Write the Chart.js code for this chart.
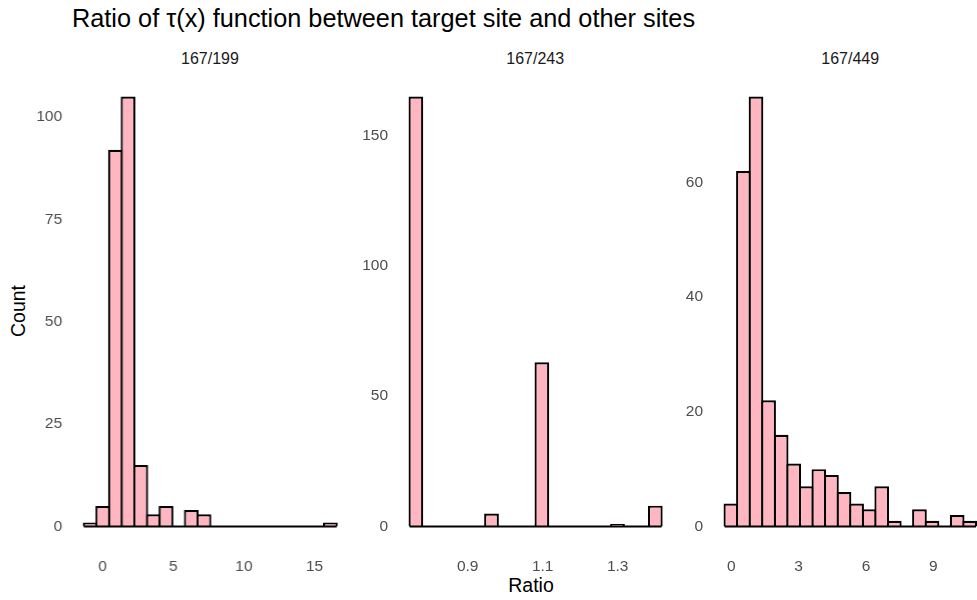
<!DOCTYPE html>
<html>
<head>
<meta charset="utf-8">
<script src="https://cdn.jsdelivr.net/npm/chart.js@4.4.1/dist/chart.umd.min.js"></script>
<style>
  body { margin: 0; width: 977px; height: 600px; overflow: hidden; background: #fff; position: relative;
         font-family: "Liberation Sans", Arial, sans-serif; }
  .panel { position: absolute; }
  .txt { position: absolute; white-space: nowrap; transform: translate(-50%, -50%); }
</style>
</head>
<body>
<div class="txt" style="left:72px;top:18px;transform:translate(0,-50%);font-size:25.3px;color:#000">Ratio of τ(x) function between target site and other sites</div>
<div class="txt" id="strip1" style="top:59px;font-size:16px;color:#1A1A1A">167/199</div>
<div class="txt" id="strip2" style="top:59px;font-size:16px;color:#1A1A1A">167/243</div>
<div class="txt" id="strip3" style="top:59px;font-size:16px;color:#1A1A1A">167/449</div>
<div class="txt" style="left:18px;top:311px;transform:translate(-50%,-50%) rotate(-90deg);font-size:19.5px;color:#000">Count</div>
<div class="txt" style="left:531px;top:585px;font-size:19.5px;color:#000">Ratio</div>

<div class="panel" id="p1"><canvas></canvas></div>
<div class="panel" id="p2"><canvas></canvas></div>
<div class="panel" id="p3"><canvas></canvas></div>

<script>
// 167/199
const binStart1 = -0.88
const binWidth1 = 0.895
const counts1 = [1, 5, 92, 105, 15, 3, 5, 0, 4, 3, 0, 0, 0, 0, 0, 0, 0, 0, 0, 1]
const ticksX1 = [0, 5, 10, 15]
const ticksY1 = [0, 25, 50, 75, 100]

// 167/243
const binStart2 = 0.762
const binWidth2 = 0.0336
const counts2 = [165, 0, 0, 0, 0, 0, 5, 0, 0, 0, 63, 0, 0, 0, 0, 0, 1, 0, 0, 8]
const ticksX2 = [0.9, 1.1, 1.3]
const ticksY2 = [0, 50, 100, 150]

// 167/449
const binStart3 = -0.02
const binWidth3 = 0.56
const counts3 = [4, 62, 75, 22, 16, 11, 7, 10, 9, 6, 4, 3, 7, 1, 0, 3, 1, 0, 2, 1]
const ticksX3 = [0, 3, 6, 9]
const ticksY3 = [0, 20, 40, 60]

const TOP = 75, BOTTOM = 548, EJE_Y = 60, EJE_X = 40
const fuente = '"Liberation Sans", Arial, sans-serif'

function sin_relleno(s) {
    s.paddingTop = 0
    s.paddingBottom = 0
    s.paddingLeft = 0
    s.paddingRight = 0
}

function dibujar_panel(id, strip, izq, der, inicio, ancho, conteos, ticksX, ticksY) {
    const caja = document.getElementById(id)
    caja.style.left = (izq - EJE_Y) + 'px'
    caja.style.top = TOP + 'px'
    caja.style.width = (der - izq + EJE_Y) + 'px'
    caja.style.height = (BOTTOM - TOP + EJE_X) + 'px'
    document.getElementById(strip).style.left = ((izq + der) / 2) + 'px'

    const centros = conteos.map((c, i) => inicio + i * ancho)
    const bordeMin = inicio - ancho / 2
    const bordeMax = inicio + (conteos.length - 0.5) * ancho
    const exp = (bordeMax - bordeMin) * 0.05
    const maxY = Math.max(...conteos)

    new Chart(caja.querySelector('canvas'), {
        type: 'bar',
        data: {
            datasets: [
                {
                    type: 'line',
                    data: [{ x: bordeMin, y: 0 }, { x: bordeMax, y: 0 }],
                    borderColor: '#000',
                    borderWidth: 2.2,
                    pointRadius: 0,
                    order: 0
                },
                {
                    data: centros.map((x, i) => ({ x: x, y: conteos[i] })),
                    backgroundColor: '#FFB6C1',
                    borderColor: '#000',
                    borderWidth: 2.2,
                    borderSkipped: 'start',
                    barPercentage: 1.17,
                    categoryPercentage: 1,
                    order: 1
                }
            ]
        },
        options: {
            responsive: true,
            maintainAspectRatio: false,
            animation: false,
            layout: { padding: 0, autoPadding: false },
            plugins: { legend: { display: false }, tooltip: { enabled: false } },
            scales: {
                x: {
                    type: 'linear',
                    min: bordeMin - exp,
                    max: bordeMax + exp,
                    offset: false,
                    grid: { display: false, drawTicks: false, tickLength: 0 },
                    border: { display: false },
                    afterBuildTicks: s => { s.ticks = ticksX.map(v => ({ value: v })) },
                    afterFit: s => { s.height = EJE_X; sin_relleno(s) },
                    ticks: {
                        padding: 9, color: '#4D4D4D', maxRotation: 0, autoSkip: false,
                        font: { family: fuente, size: 15.5 },
                        callback: v => String(v)
                    }
                },
                y: {
                    min: -0.05 * maxY,
                    max: 1.05 * maxY,
                    grid: { display: false, drawTicks: false, tickLength: 0 },
                    border: { display: false },
                    afterBuildTicks: s => { s.ticks = ticksY.map(v => ({ value: v })) },
                    afterFit: s => { s.width = EJE_Y; sin_relleno(s) },
                    ticks: {
                        padding: 9, color: '#4D4D4D', autoSkip: false,
                        font: { family: fuente, size: 15.5 },
                        callback: v => String(v)
                    }
                }
            }
        }
    })
}

dibujar_panel('p1', 'strip1', 71.3, 348.6, binStart1, binWidth1, counts1, ticksX1, ticksY1)
dibujar_panel('p2', 'strip2', 396.6, 673.8, binStart2, binWidth2, counts2, ticksX2, ticksY2)
dibujar_panel('p3', 'strip3', 711.9, 988.5, binStart3, binWidth3, counts3, ticksX3, ticksY3)
</script>
</body>
</html>
